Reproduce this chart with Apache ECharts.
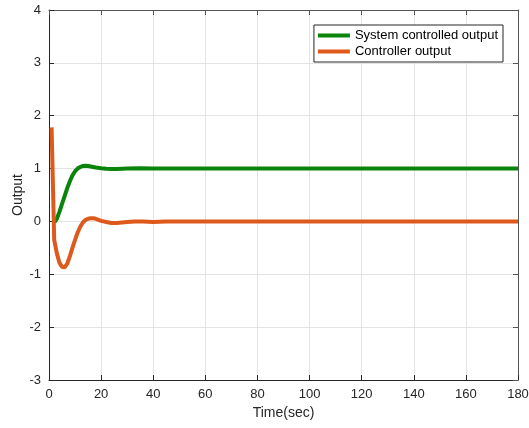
<!DOCTYPE html>
<html>
<head>
<meta charset="utf-8">
<script src="https://cdn.jsdelivr.net/npm/echarts@6/dist/echarts.min.js"></script>
<style>
html, body { margin: 0; padding: 0; background: #fff; }
#main { width: 529px; height: 428px; }
</style>
</head>
<body>
<div id="main"></div>
<script>
// data
var greenTime = [2, 3, 4, 5, 6, 7, 8, 9, 10, 11, 12, 13, 14, 15, 16, 17, 18, 20, 22, 24, 26, 28, 30, 35, 40, 50, 60, 80, 100, 120, 140, 160, 180];
var greenVal = [-0.02, 0.05, 0.18, 0.33, 0.48, 0.63, 0.76, 0.87, 0.95, 1.0, 1.03, 1.05, 1.055, 1.05, 1.04, 1.03, 1.02, 1.005, 0.995, 0.99, 0.99, 0.995, 1.0, 1.005, 1.0, 1.0, 1.0, 1.0, 1.0, 1.0, 1.0, 1.0, 1.0];

var orangeTime = [1, 2, 3, 4, 5, 6, 7, 8, 9, 10, 11, 12, 13, 14, 15, 16, 17, 18, 19, 20, 22, 24, 26, 28, 30, 33, 36, 40, 45, 50, 60, 80, 100, 120, 140, 160, 180];
var orangeVal = [1.78, -0.35, -0.6, -0.78, -0.86, -0.87, -0.8, -0.66, -0.5, -0.35, -0.21, -0.1, -0.02, 0.03, 0.05, 0.06, 0.06, 0.05, 0.03, 0.01, -0.01, -0.03, -0.03, -0.02, -0.01, 0.0, 0.0, -0.01, 0, 0, 0, 0, 0, 0, 0, 0, 0];

var seriesNames = ['System controlled output', 'Controller output'];

function pairs(xs, ys) {
    return xs.map(function (x, i) { return [x, ys[i]]; });
}

var axisColor = '#262626';
var font = 'Liberation Sans, Arial, sans-serif';

var myChart = echarts.init(document.getElementById('main'));

var option = {
    animation: false,
    backgroundColor: '#fff',
    textStyle: { fontFamily: font },
    grid: { left: 49, right: 11, top: 10, bottom: 48, outerBoundsMode: 'none', containLabel: false },
    legend: {
        orient: 'vertical',
        right: 26,
        top: 25,
        backgroundColor: '#fff',
        borderColor: axisColor,
        borderWidth: 1,
        borderRadius: 0,
        padding: [4, 5, 4, 4],
        itemGap: 3,
        itemWidth: 32,
        itemHeight: 4,
        icon: 'rect',
        textStyle: { fontSize: 13, color: '#000', fontFamily: font },
        data: seriesNames
    },
    xAxis: [
        {
            type: 'value',
            min: 0, max: 180, interval: 20,
            name: 'Time(sec)',
            nameLocation: 'middle',
            nameGap: 26,
            nameMoveOverlap: false,
            nameTextStyle: { fontSize: 14, color: axisColor },
            axisLine: { onZero: false, lineStyle: { color: axisColor } },
            axisTick: { inside: true, length: 5, lineStyle: { color: axisColor } },
            axisLabel: { fontSize: 13, color: axisColor, margin: 8 },
            splitLine: { show: true, lineStyle: { color: '#e3e3e3' } }
        },
        {
            type: 'value', position: 'top',
            min: 0, max: 180, interval: 20,
            axisLine: { show: true, onZero: false, lineStyle: { color: '#555' } },
            axisTick: { show: true, inside: true, length: 5, lineStyle: { color: '#555' } },
            axisLabel: { show: false },
            splitLine: { show: false }
        }
    ],
    yAxis: [
        {
            type: 'value',
            min: -3, max: 4, interval: 1,
            name: 'Output',
            nameLocation: 'middle',
            nameGap: 24,
            nameMoveOverlap: false,
            nameTextStyle: { fontSize: 14, color: axisColor },
            axisLine: { show: true, onZero: false, lineStyle: { color: axisColor } },
            axisTick: { show: true, inside: true, length: 5, lineStyle: { color: axisColor } },
            axisLabel: { fontSize: 13, color: axisColor, margin: 8 },
            splitLine: { show: true, lineStyle: { color: '#e3e3e3' } }
        },
        {
            type: 'value', position: 'right',
            min: -3, max: 4, interval: 1,
            axisLine: { show: true, onZero: false, lineStyle: { color: '#555' } },
            axisTick: { show: true, inside: true, length: 5, lineStyle: { color: '#555' } },
            axisLabel: { show: false },
            splitLine: { show: false }
        }
    ],
    series: [
        {
            name: seriesNames[0],
            type: 'line',
            showSymbol: false,
            color: '#0a840a',
            lineStyle: { width: 4, color: '#0a840a' },
            data: pairs(greenTime, greenVal)
        },
        {
            name: seriesNames[1],
            type: 'line',
            showSymbol: false,
            color: '#dd5a1c',
            lineStyle: { width: 4, color: '#dd5a1c' },
            data: pairs(orangeTime, orangeVal)
        }
    ]
};

myChart.setOption(option);
</script>
</body>
</html>
